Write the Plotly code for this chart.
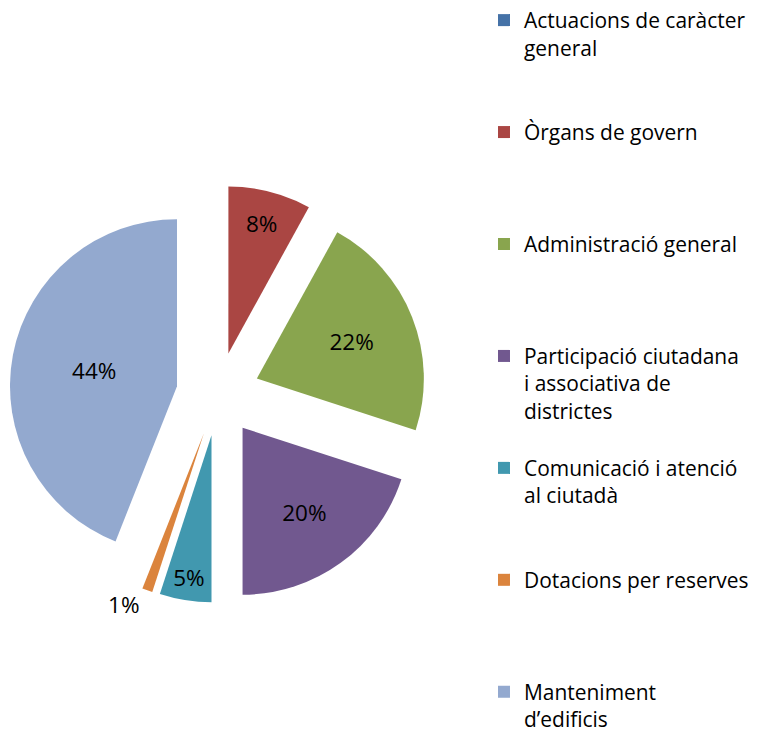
import plotly.graph_objects as go

categories = [
    "Actuacions de caràcter general",
    "Òrgans de govern",
    "Administració general",
    "Participació ciutadana i associativa de districtes",
    "Comunicació i atenció al ciutadà",
    "Dotacions per reserves",
    "Manteniment d’edificis",
]
# legend line wrapping as displayed
legend_lines = [
    ["Actuacions de caràcter", "general"],
    ["Òrgans de govern"],
    ["Administració general"],
    ["Participació ciutadana", "i associativa de", "districtes"],
    ["Comunicació i atenció", "al ciutadà"],
    ["Dotacions per reserves"],
    ["Manteniment", "d’edificis"],
]
values = [0, 8, 22, 20, 5, 1, 44]
colors = ["#4572A7", "#AA4643", "#89A54E", "#71588F", "#4198AF", "#DB843D", "#93A9CF"]

FONT = "Open Sans"
LINES_PER_ENTRY = 4
labels = []
for i, l in enumerate(legend_lines):
    pad = 0 if i == len(legend_lines) - 1 else LINES_PER_ENTRY - len(l)
    labels.append("<br>".join(l + [" "] * pad))
textpos = ["inside"] * len(values)
textpos[5] = "outside"

fig = go.Figure(
    go.Pie(
        labels=labels,
        values=values,
        customdata=categories,
        sort=False,
        direction="clockwise",
        rotation=0,
        pull=[0.25] * len(values),
        marker=dict(colors=colors, line=dict(width=0)),
        textinfo="percent",
        textposition=textpos,
        insidetextorientation="horizontal",
        automargin=False,
        textfont=dict(family=FONT, size=22.5, color="black"),
        hovertemplate="%{customdata}: %{percent}<extra></extra>",
        domain=dict(x=[0.0119, 0.55], y=[0.1855, 0.7497]),
    )
)
fig.update_layout(
    width=776,
    height=740,
    margin=dict(l=0, r=0, t=0, b=0, autoexpand=False),
    paper_bgcolor="white",
    plot_bgcolor="white",
    font=dict(family=FONT, size=21, color="black"),
    legend=dict(
        x=0.6237, xanchor="left", y=1.0, yanchor="top",
        valign="top",
        font=dict(family=FONT, size=20.95, color="black"),
        bgcolor="rgba(0,0,0,0)",
    ),
)
post = "document.body.style.margin='0';"
fig.write_html("out.html", post_script=post, config={"displayModeBar": False})
